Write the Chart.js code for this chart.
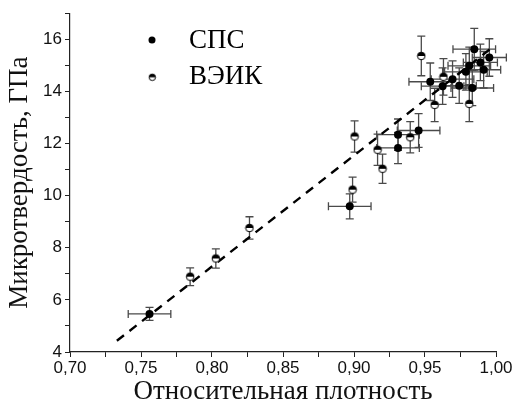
<!DOCTYPE html>
<html>
<head>
<meta charset="utf-8">
<script src="https://cdn.jsdelivr.net/npm/chart.js@4/dist/chart.umd.min.js"></script>
<style>
html,body{margin:0;padding:0;background:#fff;}
#wrap{width:515px;height:408px;}
</style>
</head>
<body>
<div id="wrap"><canvas id="hvChart"></canvas></div>
<script>

// СПС samples
const spsX = [0.756, 0.897, 0.931, 0.931, 0.9455, 0.9537, 0.9624, 0.9694, 0.9741, 0.9788, 0.9812, 0.9847, 0.9833, 0.989, 0.9913, 0.9953];
const spsY = [5.46, 9.59, 12.34, 11.83, 12.50, 14.37, 14.20, 14.47, 14.22, 14.75, 14.98, 15.62, 14.13, 15.11, 14.83, 15.30];
const spsXErr = [0.015, 0.015, 0.015, 0.015, 0.015, 0.015, 0.015, 0.015, 0.012, 0.015, 0.015, 0.015, 0.015, 0.012, 0.012, 0.012];
const spsYErr = [0.25, 0.48, 0.6, 0.6, 0.65, 0.72, 0.7, 0.7, 0.68, 0.7, 0.72, 0.8, 0.68, 0.7, 0.7, 0.72];

// ВЭИК samples
const veikX = [0.7846, 0.8027, 0.8264, 0.899, 0.9004, 0.9166, 0.9201, 0.9396, 0.9474, 0.9568, 0.963, 0.9812];
const veikY = [6.89, 7.59, 8.76, 10.23, 12.27, 11.76, 11.03, 12.24, 15.36, 13.48, 14.56, 13.52];
const veikXErr = [0, 0, 0, 0, 0, 0, 0, 0, 0, 0, 0, 0];
const veikYErr = [0.34, 0.37, 0.43, 0.48, 0.6, 0.6, 0.56, 0.6, 0.76, 0.64, 0.7, 0.68];

// linear fit ends
const fitX = [0.733, 0.997];
const fitY = [4.43, 15.67];

const seriesNames = ["СПС", "ВЭИК"];

function toPoints(xs, ys, xe, ye){
  return xs.map((x, i) => ({x: x, y: ys[i], xe: xe ? xe[i] : 0, ye: ye ? ye[i] : 0}));
}

// half filled circle marker
function halfMarker(r){
  const c = document.createElement("canvas");
  const s = Math.ceil(r * 2 + 2);
  c.width = s; c.height = s;
  const g = c.getContext("2d");
  const m = s / 2;
  g.beginPath(); g.arc(m, m, r, 0, Math.PI * 2);
  g.fillStyle = "#fff"; g.fill();
  g.beginPath(); g.arc(m, m, r, Math.PI, 0); g.closePath();
  g.fillStyle = "#000"; g.fill();
  g.beginPath(); g.arc(m, m, r, 0, Math.PI * 2);
  g.lineWidth = 1; g.strokeStyle = "#000"; g.stroke();
  return c;
}

const errorBars = {
  id: "errorBars",
  beforeDatasetsDraw(chart){
    const ctx = chart.ctx;
    const xs = chart.scales.x, ys = chart.scales.y;
    const cap = 4;
    ctx.save();
    ctx.strokeStyle = "#4a4a4a";
    ctx.lineWidth = 1.3;
    chart.data.datasets.forEach(ds => {
      if(!ds.errors) return;
      ds.data.forEach(p => {
        const px = xs.getPixelForValue(p.x);
        const py = ys.getPixelForValue(p.y);
        ctx.beginPath();
        if(p.ye){
          const t = ys.getPixelForValue(p.y + p.ye);
          const b = ys.getPixelForValue(p.y - p.ye);
          ctx.moveTo(px, t); ctx.lineTo(px, b);
          ctx.moveTo(px - cap, t); ctx.lineTo(px + cap, t);
          ctx.moveTo(px - cap, b); ctx.lineTo(px + cap, b);
        }
        if(p.xe){
          const l = xs.getPixelForValue(p.x - p.xe);
          const r = xs.getPixelForValue(p.x + p.xe);
          ctx.moveTo(l, py); ctx.lineTo(r, py);
          ctx.moveTo(l, py - cap); ctx.lineTo(l, py + cap);
          ctx.moveTo(r, py - cap); ctx.lineTo(r, py + cap);
        }
        ctx.stroke();
      });
    });
    ctx.restore();
  }
};

// legend inside the plot, top left
const innerLegend = {
  id: "innerLegend",
  afterDraw(chart){
    const ctx = chart.ctx;
    ctx.save();
    ctx.beginPath(); ctx.arc(152, 40, 3.5, 0, Math.PI * 2);
    ctx.fillStyle = "#000"; ctx.fill();
    ctx.drawImage(halfMarker(3.2), 152 - 4.2, 77 - 4.2);
    ctx.fillStyle = "#000";
    ctx.font = "27px 'Liberation Serif'";
    ctx.textBaseline = "middle";
    ctx.fillText(seriesNames[0], 189, 41);
    ctx.fillText(seriesNames[1], 189, 77);
    ctx.restore();
  }
};

const tickFont = {family: "'Liberation Sans'", size: 17};
const titleFont = {family: "'Liberation Serif'", size: 27};

new Chart(document.getElementById("hvChart"), {
  type: "scatter",
  data: {
    datasets: [
      {
        label: seriesNames[0],
        data: toPoints(spsX, spsY, spsXErr, spsYErr),
        errors: true,
        pointStyle: "circle",
        pointRadius: 4,
        backgroundColor: "#000",
        borderColor: "#000",
        borderWidth: 0
      },
      {
        label: seriesNames[1],
        data: toPoints(veikX, veikY, veikXErr, veikYErr),
        errors: true,
        pointStyle: halfMarker(3.8),
        pointRadius: 4
      },
      {
        label: "fit",
        data: toPoints(fitX, fitY),
        showLine: true,
        pointRadius: 0,
        borderColor: "#000",
        borderWidth: 2.4,
        borderDash: [9, 7]
      }
    ]
  },
  options: {
    responsive: true,
    maintainAspectRatio: false,
    animation: false,
    layout: {padding: {top: 12, right: 19, left: 0, bottom: 0}},
    plugins: {legend: {display: false}, tooltip: {enabled: false}},
    scales: {
      x: {
        type: "linear",
        min: 0.70,
        max: 1.00,
        afterFit(s){ s.height = 56; },
        ticks: {
          stepSize: 0.025,
          autoSkip: false,
          maxRotation: 0,
          color: "#111",
          font: tickFont,
          padding: 1,
          callback(v){
            const k = Math.round(v * 1000);
            return k % 50 === 0 ? (k / 1000).toFixed(2).replace(".", ",") : "";
          }
        },
        grid: {drawOnChartArea: false, tickLength: 5, color: "#222"},
        border: {color: "#222", width: 1.2},
        title: {display: true, text: "Относительная плотность", font: titleFont, color: "#111", padding: {top: 0, bottom: 0}}
      },
      y: {
        min: 4,
        max: 17,
        afterFit(s){ s.width = 70; },
        ticks: {
          stepSize: 1,
          autoSkip: false,
          color: "#111",
          font: tickFont,
          padding: 3,
          callback(v){ return v % 2 === 0 ? String(v) : ""; }
        },
        grid: {drawOnChartArea: false, tickLength: 5, color: "#222"},
        border: {color: "#222", width: 1.2},
        title: {display: true, text: "Микротвердость, ГПа", font: titleFont, color: "#111", padding: {top: 4, bottom: 0}}
      }
    }
  },
  plugins: [errorBars, innerLegend]
});

</script>
</body>
</html>
